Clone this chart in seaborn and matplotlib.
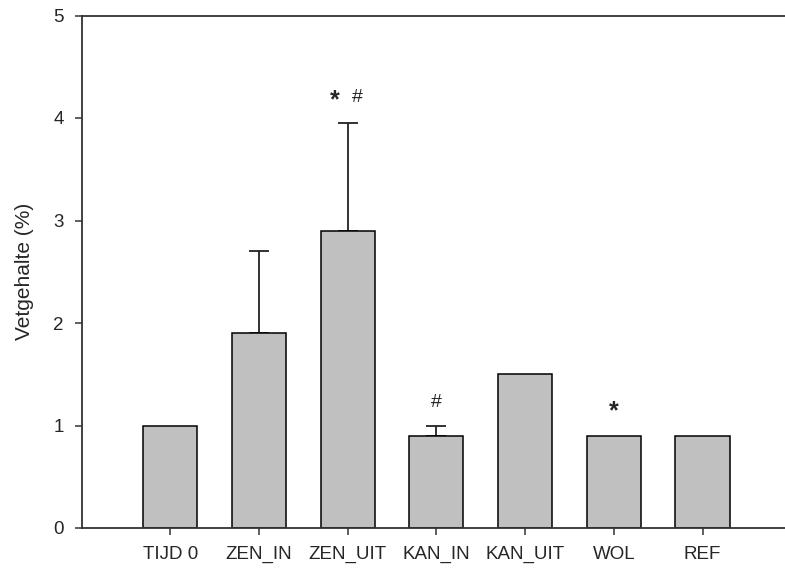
import matplotlib
matplotlib.use("Agg")
import matplotlib.pyplot as plt
import seaborn as sns
import numpy as np
import pandas as pd

categories = ["TIJD 0", "ZEN_IN", "ZEN_UIT", "KAN_IN", "KAN_UIT", "WOL", "REF"]
values = [1.0, 1.9, 2.9, 0.9, 1.5, 0.9, 0.9]
errors_up = [0.0, 0.8, 1.05, 0.1, 0.0, 0.0, 0.0]
y_ticks = [0, 1, 2, 3, 4, 5]

sns.set_style("ticks")
plt.rcParams['font.family'] = ['Liberation Sans', 'DejaVu Sans']

fig = plt.figure(figsize=(7.85, 5.69), dpi=100)
ax = fig.add_axes([82/785, 1-528/569, 1-82/785, (528-15.5)/569])

df = pd.DataFrame({"cat": categories, "val": values})
sns.barplot(data=df, x="cat", y="val", color="#c0c0c0", saturation=1,
            width=0.61, edgecolor="black", linewidth=1.1, ax=ax, zorder=2)

x = np.arange(len(categories))
err = np.array(errors_up)
mask = err > 0
ax.errorbar(x[mask], np.array(values)[mask],
            yerr=[np.zeros(mask.sum()), err[mask]],
            fmt="none", ecolor="#222222", elinewidth=1.3, capsize=7.5,
            capthick=1.3, zorder=1)

# significance markers
ax.text(2 - 0.14, 4.17, "*", ha="center", va="center", fontsize=18, fontweight="bold")
ax.text(2 + 0.11, 4.2, "#", ha="center", va="center", fontsize=14)
ax.text(3, 1.22, "#", ha="center", va="center", fontsize=14)
ax.text(5, 1.14, "*", ha="center", va="center", fontsize=18, fontweight="bold")

ax.set_xlim(-0.995, 6.93)
ax.set_ylim(0, 5)
ax.set_yticks(y_ticks)
ax.set_xlabel("")
ax.set_ylabel("Vetgehalte (%)", fontsize=15, labelpad=14)

for side in ["left", "bottom", "top"]:
    ax.spines[side].set_color("#333333")
    ax.spines[side].set_linewidth(1.3)
ax.spines["right"].set_visible(False)
ax.tick_params(axis="both", direction="out", length=5, width=1.1, color="#333333",
               labelsize=13.5, pad=8)

fig.savefig("out.png", dpi=100)
